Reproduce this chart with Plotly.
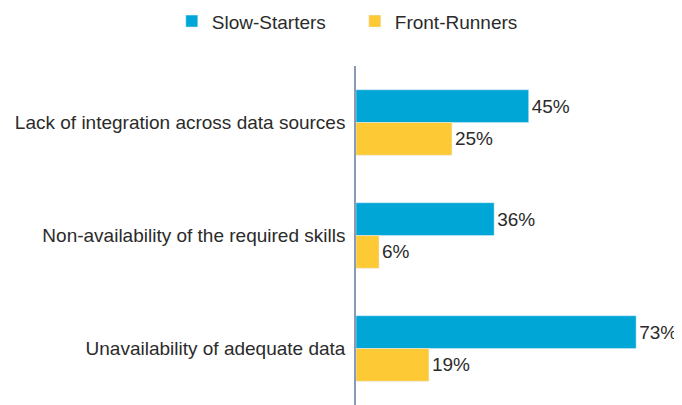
import plotly.graph_objects as go

categories = [
    "Lack of integration across data sources",
    "Non-availability of the required skills",
    "Unavailability of adequate data",
]
slow_starters = [45, 36, 73]
front_runners = [25, 6, 19]

FONT = "Liberation Sans Narrow, Arial Narrow, Liberation Sans, sans-serif"
TEXT_COLOR = "#2b2b2b"

# the page body adds an 8px offset, so the figure is drawn 8px smaller
fig = go.Figure()
fig.add_trace(
    go.Bar(
        name="Slow-Starters",
        y=categories,
        x=slow_starters,
        orientation="h",
        marker_color="#00a6d6",
        text=[f"{v}%" for v in slow_starters],
        textposition="outside",
        cliponaxis=False,
    )
)
fig.add_trace(
    go.Bar(
        name="Front-Runners",
        y=categories,
        x=front_runners,
        orientation="h",
        marker_color="#fdc935",
        text=[f"{v}%" for v in front_runners],
        textposition="outside",
        cliponaxis=False,
    )
)

fig.update_traces(textfont={"size": 19, "color": TEXT_COLOR, "family": FONT})
fig.update_layout(
    width=674,
    height=397,
    barmode="group",
    bargap=0.42,
    bargroupgap=0,
    plot_bgcolor="white",
    paper_bgcolor="white",
    font={"family": FONT, "size": 19, "color": TEXT_COLOR},
    margin={"l": 348, "r": 19, "t": 58, "b": 0, "autoexpand": False},
    legend={
        "orientation": "h",
        "x": -0.6,
        "xanchor": "left",
        "y": 1.188,
        "yanchor": "top",
        "font": {"size": 19},
        "itemwidth": 30,
        "entrywidth": 138,
        "entrywidthmode": "pixels",
        "traceorder": "normal",
    },
    xaxis={
        "range": [0, 80],
        "visible": False,
        "showgrid": False,
        "zeroline": False,
        "automargin": False,
    },
    yaxis={
        "autorange": "reversed",
        "automargin": False,
        "showline": True,
        "linecolor": "#8a9bb8",
        "linewidth": 1.5,
        "ticks": "",
        "ticklabelstandoff": 5,
        "showgrid": False,
    },
)

fig.write_html("out.html")
